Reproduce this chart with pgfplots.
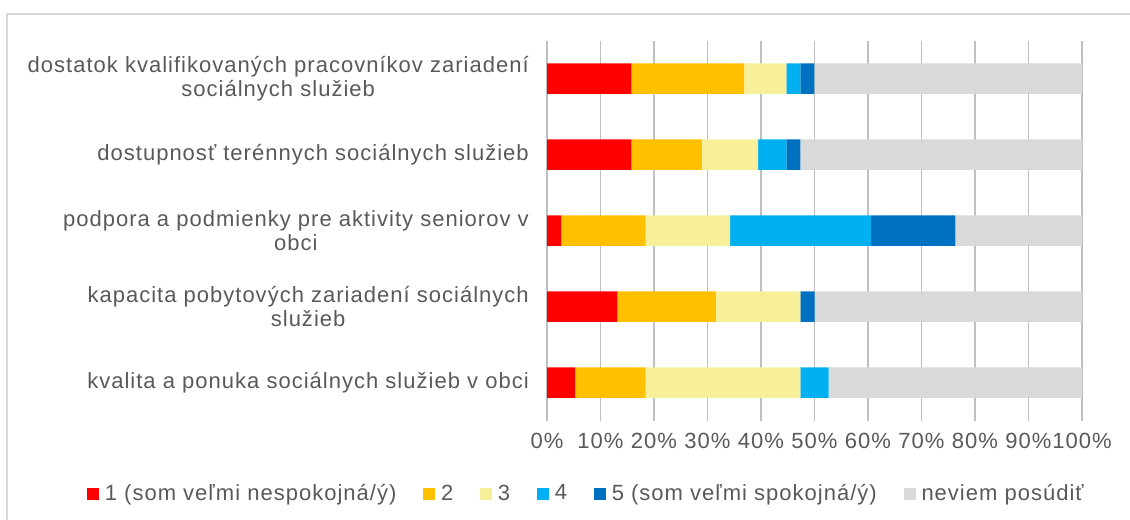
\documentclass[border=0pt]{standalone}
\usepackage{fontspec}
\setmainfont{Liberation Sans}[LetterSpace=4.6]
\usepackage{pgfplots}
\usepackage{pgfplotstable}
\pgfplotsset{compat=1.18}
\definecolor{cA}{HTML}{FF0000}
\definecolor{cB}{HTML}{FFC000}
\definecolor{cC}{HTML}{F8EF9B}
\definecolor{cD}{HTML}{00B0F0}
\definecolor{cE}{HTML}{0070C0}
\definecolor{cF}{HTML}{D9D9D9}
\definecolor{txt}{HTML}{595959}
\definecolor{grid}{HTML}{D9D9D9}
\pgfplotstableread{
y  a      b      c      d      e      f
0  15.79  21.05  7.89   2.63   2.63   50.00
1  15.79  13.16  10.53  5.26   2.63   52.63
2  2.63   15.79  15.79  26.32  15.79  23.68
3  13.16  18.42  15.79  0      2.63   50.00
4  5.26   13.16  28.95  5.26   0      47.37
}\data
\begin{document}
\fontsize{16.5}{18}\selectfont
\begin{tikzpicture}
\useasboundingbox (0,0) rectangle (847.5pt,390pt);
\draw[grid, line width=1.2pt] (5.25pt,-20pt) -- (5.25pt,379.5pt) -- (900pt,379.5pt);
\begin{axis}[
  at={(410.25pt,74.5pt)}, anchor=south west,
  scale only axis, width=401.25pt, height=285pt,
  xbar stacked, bar width=0.4,
  xmin=0, xmax=100, ymin=-0.5, ymax=4.5, y dir=reverse,
  xtick={0,10,...,100},
  xticklabels={0\%,10\%,20\%,30\%,40\%,50\%,60\%,70\%,80\%,90\%,100\%},
  ytick={0,1,2,3,4},
  yticklabels={{dostatok kvalifikovaných pracovníkov zariadení\\sociálnych služieb},
    {dostupnosť terénnych sociálnych služieb},
    {podpora a podmienky pre aktivity seniorov v\\obci},
    {kapacita pobytových zariadení sociálnych\\služieb},
    {kvalita a ponuka sociálnych služieb v obci}},
  yticklabel style={align=center, text=txt, font=\fontsize{16.5}{18}\selectfont, xshift=-8pt},
  xticklabel style={text=txt, font=\fontsize{16.5}{18}\selectfont, yshift=-4pt},
  major tick length=0pt,
  xmajorgrids, major grid style={grid, line width=1.1pt},
  axis line style={draw=none},
  legend columns=6,
  legend style={at={(0.0716,-0.193)}, anchor=center, draw=none, fill=none,
    font=\fontsize{16.5}{18}\selectfont, text=txt,
    nodes={inner sep=0pt},
    /tikz/every odd column/.append style={column sep=4.5pt},
    /tikz/every even column/.append style={column sep=20pt}},
  legend image code/.code={\fill[#1,draw=none] (0pt,-4.5pt) rectangle (9pt,4.5pt);},
]
\addplot[fill=cA, draw=none] table[x=a, y=y] {\data};
\addplot[fill=cB, draw=none] table[x=b, y=y] {\data};
\addplot[fill=cC, draw=none] table[x=c, y=y] {\data};
\addplot[fill=cD, draw=none] table[x=d, y=y] {\data};
\addplot[fill=cE, draw=none] table[x=e, y=y] {\data};
\addplot[fill=cF, draw=none] table[x=f, y=y] {\data};
\legend{1 (som veľmi nespokojná/ý),2,3,4,5 (som veľmi spokojná/ý),neviem posúdiť}
\end{axis}
\end{tikzpicture}
\end{document}
